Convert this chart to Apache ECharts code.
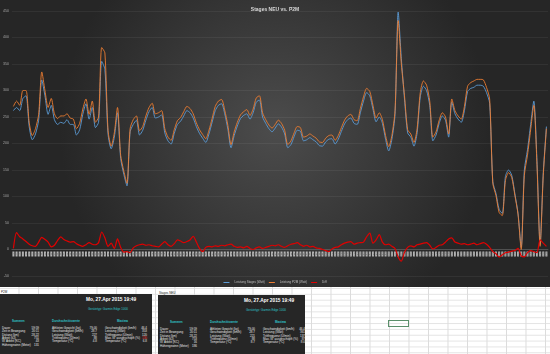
<!DOCTYPE html>
<html>
<head>
<meta charset="utf-8">
<script src="https://cdn.jsdelivr.net/npm/echarts@6/dist/echarts.min.js"></script>
<style>
  body { margin: 0; width: 550px; height: 354px; overflow: hidden; background: #fff; font-family: "Liberation Sans", Arial, sans-serif; position: relative; }
  #chart { position: absolute; left: 0; top: 0; width: 550px; height: 287px; }
  #sheet { position: absolute; left: 0; top: 287px; width: 550px; height: 67px;
    background-image: linear-gradient(to right, #dcdcdc 1px, transparent 1px), linear-gradient(to bottom, #e4e4e4 1px, transparent 1px);
    background-size: 19.5px 5.85px; background-position: 18.5px 1px; }
  .cap { position: absolute; font-size: 3px; color: #222; }
  .box { position: absolute; background: #262626; color: #e6e6e6; height: 60px; }
  .box div { position: absolute; font-size: 3px; white-space: nowrap; line-height: 3px; }
  .date { font-size: 4.8px !important; font-weight: bold; color: #fff; line-height: 5px !important; }
  .teal { color: #2fc3c8; }
  .hd { color: #2fc3c8; font-weight: bold; }
  .sel { position: absolute; left: 388px; top: 320px; width: 19px; height: 5px; border: 1px solid #5a8f6a; }
</style>
</head>
<body>
<div id="chart"></div>
<div id="sheet"></div>
<div class="sel"></div>
<div id="tables"></div>
<script>
// Kategorien (Messpunkte)
const categories = [];
for (let i = 1; i <= 170; i++) categories.push(String(i));

const yTicks = [-50, 0, 50, 100, 150, 200, 250, 300, 350, 400, 450];

const stages = [262,268,262,285,290,232,207,218,244,320,290,255,272,245,236,240,238,245,236,236,
  216,226,255,275,246,268,230,240,355,340,218,190,212,258,172,142,120,222,236,244,
  216,225,244,260,268,248,250,254,220,205,199,219,236,242,252,262,258,248,232,219,
  210,202,218,240,262,272,275,256,227,192,215,233,247,253,256,246,258,278,282,250,
  238,228,222,229,237,231,218,192,198,213,225,223,205,207,211,207,203,196,195,203,
  208,209,199,208,223,237,245,248,238,236,258,280,296,290,265,241,250,238,208,186,
  208,255,448,360,284,220,212,195,220,288,308,300,272,205,216,238,252,244,212,278,
  256,246,240,262,298,304,306,310,310,308,296,276,128,106,76,68,138,150,140,105,
  68,4,150,188,236,280,168,10,145,232];

const p2m = [270,280,272,300,300,240,215,228,255,335,300,268,285,256,247,252,252,256,248,246,
  228,238,265,284,255,280,240,250,381,371,225,195,220,268,178,148,125,228,245,252,
  224,232,252,268,276,256,258,262,228,212,206,226,243,249,260,270,266,256,239,226,
  217,209,225,247,270,280,283,263,234,198,222,240,254,260,264,253,265,286,290,258,
  245,235,229,236,244,238,225,198,205,220,232,230,212,214,218,214,210,203,202,210,
  215,216,206,215,230,244,252,255,245,243,266,288,304,298,272,248,258,245,215,194,
  215,262,432,350,290,226,218,202,228,296,318,310,280,212,222,244,258,250,218,284,
  262,252,246,270,308,315,318,321,321,320,306,284,125,102,70,64,130,145,136,102,
  66,0,140,178,226,272,160,6,140,228];

const diff = [2,32,24,20,15,10,7,6,14,23,19,14,5,8,17,24,19,16,14,15,
  11,8,6,9,13,10,9,13,33,22,6,12,2,20,4,-5,-4,-6,3,7,
  9,10,8,9,7,6,5,10,15,9,6,11,18,16,13,15,18,25,14,2,
  -4,4,6,5,7,6,8,7,9,10,6,4,5,3,6,2,0,3,5,2,
  4,6,8,7,9,6,4,7,10,11,13,9,6,8,5,6,3,2,0,-2,
  -4,1,4,5,9,12,14,15,10,12,13,14,24,31,12,18,28,14,9,10,
  6,2,-14,-22,-5,4,7,5,9,10,12,13,8,1,4,8,9,14,20,22,
  14,12,10,11,9,10,12,9,11,13,10,4,-4,-8,-14,-10,-6,-5,-3,-2,
  2,-12,-14,-6,-2,-4,-6,18,12,6];

const seriesNames = ["Leistung Stages (Watt)", "Leistung P2M (Watt)", "Diff"];

const option = {
  animation: false,
  backgroundColor: {
    type: "radial", x: 0.5, y: 0.45, r: 0.75,
    colorStops: [{ offset: 0, color: "#4c4c4c" }, { offset: 1, color: "#262626" }],
  },
  title: {
    text: "Stages NEU vs. P2M",
    left: "center",
    top: 2,
    textStyle: { color: "#d9d9d9", fontSize: 5, fontWeight: "bold" },
  },
  legend: {
    data: seriesNames,
    bottom: 3,
    left: "center",
    padding: 0,
    icon: "rect",
    itemWidth: 6,
    itemHeight: 1,
    itemGap: 4,
    textStyle: { color: "#bfbfbf", fontSize: 3 },
  },
  grid: { left: 10, right: 2, top: 11, bottom: 11 },
  xAxis: {
    type: "category",
    data: categories,
    boundaryGap: true,
    offset: -26.5, // Achse sitzt bei 0 wie in Excel
    axisLine: { onZero: false, lineStyle: { color: "#6f6f6f", width: 0.5 } },
    axisTick: { show: false },
    axisLabel: {
      interval: 0,
      rotate: 90,
      margin: 2,
      formatter: (v) => "{b|" + v + "}",
      rich: {
        b: { fontSize: 2, width: 5, height: 2, lineHeight: 2, backgroundColor: "#b3b3b3", color: "#666", align: "center" },
      },
    },
  },
  yAxis: {
    type: "value",
    min: yTicks[0],
    max: yTicks[yTicks.length - 1],
    interval: 50,
    axisLine: { show: false },
    axisTick: { show: false },
    axisLabel: { color: "#a6a6a6", fontSize: 3.5, margin: 3 },
    splitLine: { lineStyle: { color: "rgba(255,255,255,0.1)", width: 0.6 } },
  },
  series: [
    { name: seriesNames[0], type: "line", data: stages, symbol: "none", smooth: 0.25,
      lineStyle: { color: "#5b9bd5", width: 0.9 }, itemStyle: { color: "#5b9bd5" } },
    { name: seriesNames[1], type: "line", data: p2m, symbol: "none", smooth: 0.25,
      lineStyle: { color: "#ed7d31", width: 0.9 }, itemStyle: { color: "#ed7d31" } },
    { name: seriesNames[2], type: "line", data: diff, symbol: "none", smooth: 0.25,
      lineStyle: { color: "#e00000", width: 1.2 }, itemStyle: { color: "#e00000" } },
  ],
};

echarts.init(document.getElementById("chart")).setOption(option);

// Zusammenfassungstabellen unter dem Diagramm
const sumLabels = ["Dauer", "Zeit in Bewegung", "Distanz (km)", "Arbeit (kJ)", "W' Arbeit (KC)", "Höhengewinn (Meter)"];
const avgLabels = ["Athleten Gewicht (kg)", "Geschwindigkeit (km/h)", "Leistung (Watt)", "Trittfrequenz (U/min)", "Temperatur (°C)"];
const maxLabels = ["Geschwindigkeit (km/h)", "Leistung (Watt)", "Trittfrequenz (U/min)", "Max. W' ausgeschöpft (%)", "Temperatur (°C)"];
const p2mSum = ["59:59", "20:11", "28.22", "751", "43", "131"];
const p2mAvg = ["79.00", "28.7", "227", "88", "4.8"];
const p2mMax = ["46.4", "353", "120", "130", "6.8"];
const stgSum = ["59:59", "20:11", "28.22", "753", "16", "186"];
const stgAvg = ["79.00", "28.7", "221", "88", "8.7"];
const stgMax = ["46.4", "361", "137", "87", "8.0"];

function table(left, top, w, cap, sum, avg, max, redMax) {
  let h = '<div class="cap" style="left:' + (left + 1) + 'px;top:' + (top - 4) + 'px">' + cap + '</div>';
  h += '<div class="box" style="left:' + left + 'px;top:' + top + 'px;width:' + w + 'px">';
  h += '<div class="date" style="left:86px;top:3px">Mo, 27.Apr 2015 19:49</div>';
  h += '<div class="teal" style="left:88px;top:14px">Gerätetyp: Garmin Edge 1000</div>';
  h += '<div class="hd" style="left:12px;top:26px">Summen</div>';
  h += '<div class="hd" style="left:52px;top:26px">Durchschnittswerte</div>';
  h += '<div class="hd" style="left:117px;top:26px">Maxima</div>';
  for (let i = 0; i < sum.length; i++) {
    const y = 33 + i * 3.35;
    h += '<div style="left:2px;top:' + y + 'px">' + sumLabels[i] + '</div>';
    h += '<div style="left:30px;width:9px;text-align:right;top:' + y + 'px">' + sum[i] + '</div>';
  }
  for (let i = 0; i < avg.length; i++) {
    const y = 33 + i * 3.35;
    h += '<div style="left:52px;top:' + y + 'px">' + avgLabels[i] + '</div>';
    h += '<div style="left:88px;width:9px;text-align:right;top:' + y + 'px">' + avg[i] + '</div>';
    h += '<div style="left:105px;top:' + y + 'px">' + maxLabels[i] + '</div>';
    const red = redMax && i === 3 ? "color:#ff3b3b;" : "";
    h += '<div style="left:138px;width:9px;text-align:right;' + red + 'top:' + y + 'px">' + max[i] + '</div>';
  }
  return h + "</div>";
}
document.getElementById("tables").innerHTML =
  table(0, 294, 152, "P2M", p2mSum, p2mAvg, p2mMax, true) +
  table(158, 295, 147, "Stages NEU", stgSum, stgAvg, stgMax, false);
</script>
</body>
</html>
